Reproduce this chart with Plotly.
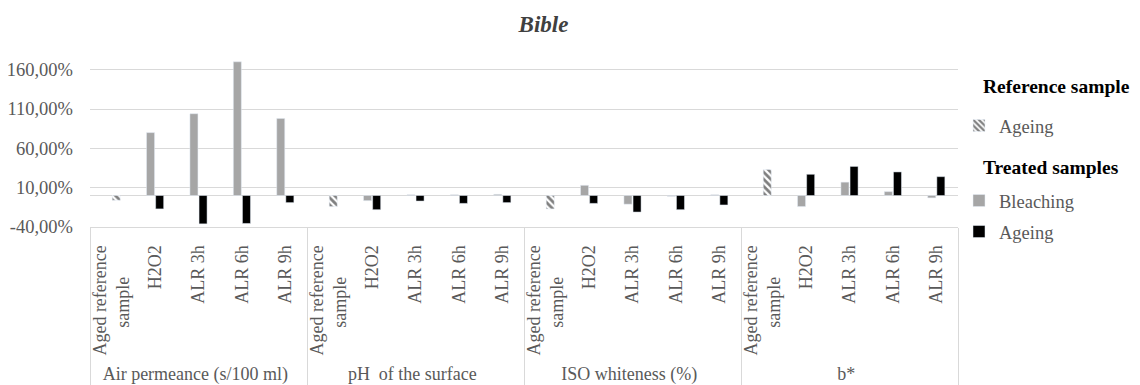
import plotly.graph_objects as go

groups = ["Air permeance (s/100 ml)", "pH  of the surface", "ISO whiteness (%)", "b*"]
samples = ["Aged reference<br>sample" + "\u00a0" * 7, "H2O2", "ALR 3h", "ALR 6h", "ALR 9h"]
y_ticks = [-40, 10, 60, 110, 160]
y_tick_labels = ["-40,00%", "10,00%", "60,00%", "110,00%", "160,00%"]

# Reference sample (aged), one value per property
ref_ageing = [-6, -14, -17, 33]
# Treated samples: values per property for H2O2, ALR 3h, ALR 6h, ALR 9h
bleaching = [
    [80, 104, 170, 98],
    [-6.5, 1, 1, 1.5],
    [13, -11, -1, 1],
    [-14, 17, 5, -3],
]
ageing = [
    [-17, -36, -35.5, -9],
    [-18, -7, -10, -9],
    [-10, -21, -18, -12],
    [27, 37, 30, 24],
]

outer, inner, yb, ya = [], [], [], []
for gi, g in enumerate(groups):
    for si, s in enumerate(samples):
        outer.append(g)
        inner.append(s)
        if si == 0:
            yb.append(None)
            ya.append(None)
        else:
            yb.append(bleaching[gi][si - 1])
            ya.append(ageing[gi][si - 1])

fig = go.Figure()
fig.add_trace(go.Bar(
    x=[outer, inner], y=yb, name="Bleaching", marker_color="#a6a6a6",
    offsetgroup="b", legend="legend2",
))
fig.add_trace(go.Bar(
    x=[outer, inner], y=ya, name="Ageing", marker_color="#000000",
    offsetgroup="a", legend="legend3",
))
fig.add_trace(go.Bar(
    x=[groups, [samples[0]] * len(groups)], y=ref_ageing, name="Ageing",
    marker=dict(color="white", pattern=dict(shape="\\", fgcolor="black", bgcolor="white",
                                            size=5, solidity=0.55)),
    offsetgroup="a", legend="legend",
))

font_family = "Liberation Serif, Times New Roman, serif"
W, H = 1132, 377  # page body has an 8px margin
L, T, PW, PH = 82, 42, 868, 177


def px_x(page_x):
    return (page_x - 8 - L) / PW


def px_y(page_y):
    return 1 - (page_y - 8 - T) / PH


leg_common = dict(xanchor="left", yanchor="middle", bgcolor="rgba(0,0,0,0)",
                  font=dict(family=font_family, size=18.5, color="#595959"),
                  itemwidth=30, maxheight=300)
leg_x = px_x(959)

fig.update_layout(
    width=W, height=H,
    margin=dict(l=L, r=W - L - PW, t=T, b=H - T - PH, autoexpand=False),
    paper_bgcolor="white", plot_bgcolor="white",
    font=dict(family=font_family, size=16, color="#595959"),
    barmode="group", bargap=0.58, bargroupgap=0.12,
    title=dict(text="<b><i>Bible</i></b>", x=535.5 / W, xanchor="center",
               y=1 - 16 / H, yanchor="middle",
               font=dict(family=font_family, size=23, color="#404040")),
    legend=dict(x=leg_x, y=px_y(126), **leg_common),
    legend2=dict(x=leg_x, y=px_y(201), **leg_common),
    legend3=dict(x=leg_x, y=px_y(232), **leg_common),
    showlegend=True,
    annotations=[
        dict(text="<b>Reference sample</b>", xref="paper", yref="paper",
             x=px_x(981), y=px_y(86), xanchor="left", yanchor="middle",
             showarrow=False, font=dict(family=font_family, size=19.5, color="#000000")),
        dict(text="<b>Treated samples</b>", xref="paper", yref="paper",
             x=px_x(981), y=px_y(167), xanchor="left", yanchor="middle",
             showarrow=False, font=dict(family=font_family, size=19.5, color="#000000")),
    ],
)
fig.update_yaxes(range=[-40, 185], tickvals=y_ticks, ticktext=y_tick_labels,
                 showgrid=True, gridcolor="#d9d9d9",
                 zeroline=True, zerolinecolor="#d9d9d9", zerolinewidth=1,
                 showline=False, ticks="", tickfont=dict(size=18.5, color="#595959"),
                 ticklabelstandoff=16, automargin=False)
fig.update_xaxes(type="multicategory", tickangle=-90, showgrid=False,
                 showline=True, linecolor="#d9d9d9", mirror=False,
                 showdividers=True, dividercolor="#d9d9d9", dividerwidth=1,
                 ticks="", tickfont=dict(size=18, color="#595959"),
                 ticklabelstandoff=10, automargin=False)

fig.write_html("out.html")
